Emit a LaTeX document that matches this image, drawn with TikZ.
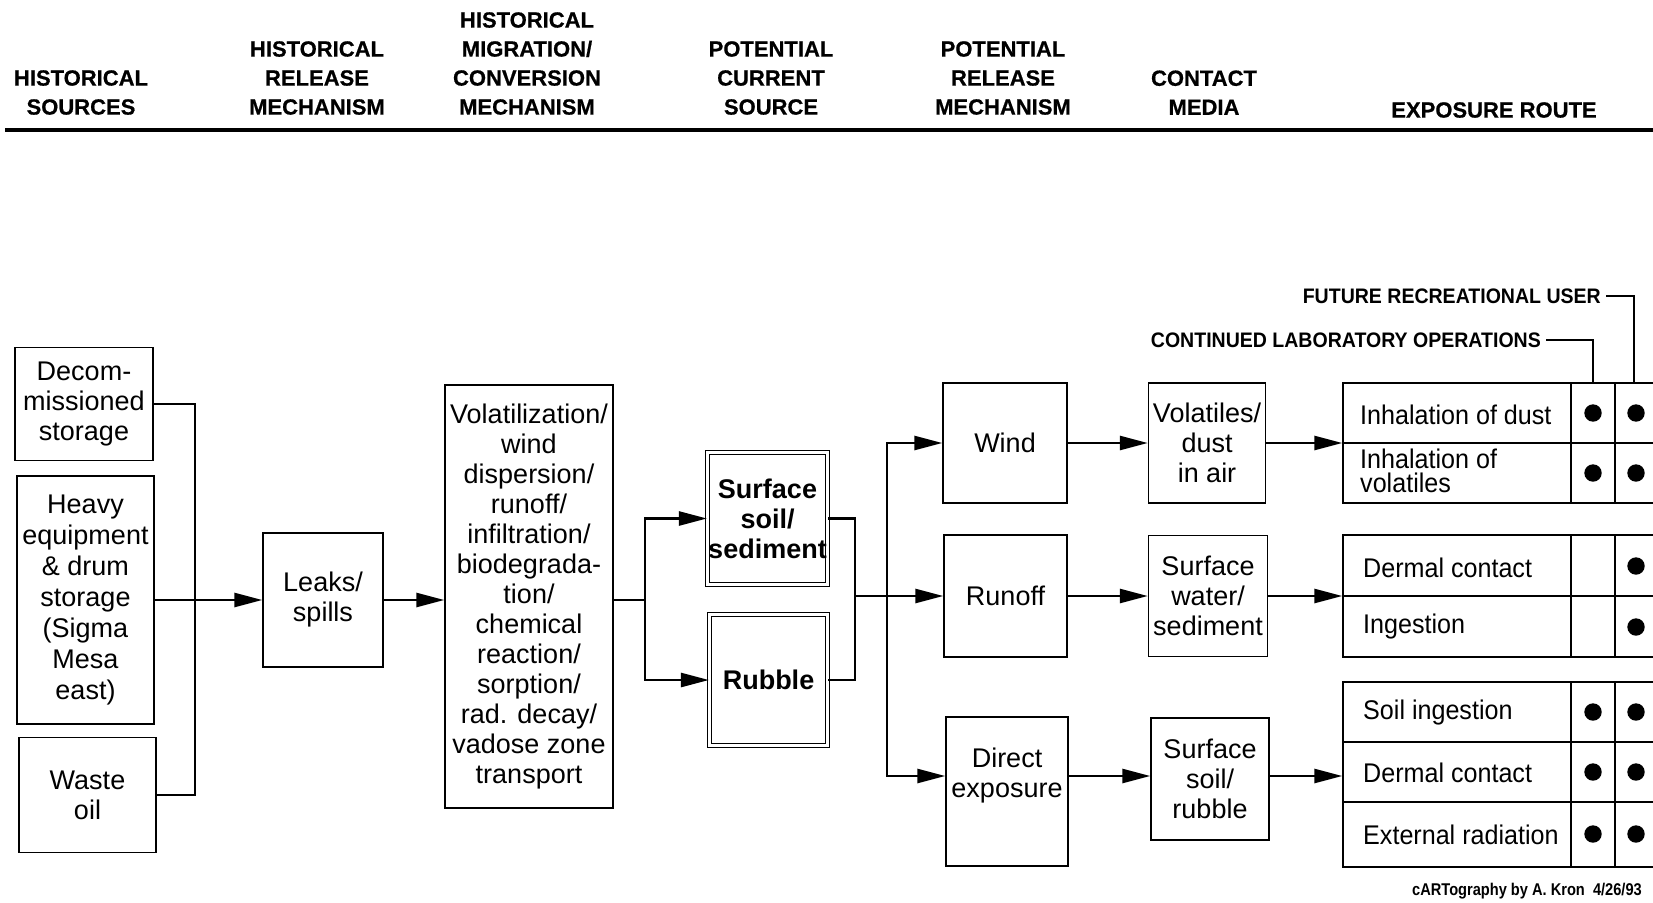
\documentclass[tikz,border=0pt]{standalone}
\usepackage{fontspec}
\setmainfont{Liberation Sans}
\newfontfamily\hdfont[FakeBold=0.6]{Liberation Sans Bold}
\newfontfamily\tabfont[FakeStretch=0.93]{Liberation Sans}
\newfontfamily\keyfont[FakeStretch=0.93]{Liberation Sans}
\newfontfamily\credfont[FakeStretch=0.86]{Liberation Sans}
\usetikzlibrary{arrows.meta}
\tikzset{
  box/.style={draw, line width=1.4pt, align=center, inner sep=0pt,
    font=\fontsize{27}{30}\selectfont},
  dbox/.style={draw, line width=1.2pt, double, double distance=2.5pt,
    align=center, inner sep=0pt, font=\bfseries\fontsize{27}{30}\selectfont},
  tbl/.style={draw, line width=1.4pt, inner sep=0pt},
  tline/.style={line width=1.4pt},
  conn/.style={line width=2.6pt},
  arr/.style={conn, -{Triangle[length=28pt,width=14pt]}},
  hd/.style={font=\hdfont\fontsize{22}{29}\selectfont, align=center,
    anchor=south, inner sep=0pt},
  cell/.style={font=\tabfont\fontsize{27}{24}\selectfont, anchor=west,
    align=left, inner sep=0pt},
  key/.style={font=\keyfont\bfseries\fontsize{21}{21}\selectfont, anchor=east,
    inner sep=0pt},
  keyline/.style={line width=1.2pt},
}
\begin{document}
\begin{tikzpicture}[x=1pt,y=-1pt]
\useasboundingbox (0,0) rectangle (1653,902);
\clip (0,0) rectangle (1653,902);

% column headings
\node[hd] (h1) at (81,115) {HISTORICAL\\SOURCES};
\node[hd] (h2) at (317,115) {HISTORICAL\\RELEASE\\MECHANISM};
\node[hd] (h3) at (527,115) {HISTORICAL\\MIGRATION/\\CONVERSION\\MECHANISM};
\node[hd] (h4) at (771,115) {POTENTIAL\\CURRENT\\SOURCE};
\node[hd] (h5) at (1003,115) {POTENTIAL\\RELEASE\\MECHANISM};
\node[hd] (h6) at (1204,115) {CONTACT\\MEDIA};
\node[hd] (h7) at (1494,118) {EXPOSURE ROUTE};
\draw[line width=3.5pt] (5,130) -- (1660,130);

% historical sources
\node[box, minimum width=138pt, minimum height=113pt] (dec) at (84,404)
  {Decom-\\missioned\\storage};
\node[box, minimum width=137pt, minimum height=248pt,
  font=\fontsize{27}{31}\selectfont] (heavy) at (85.5,600)
  {Heavy\\equipment\\\& drum\\storage\\(Sigma\\Mesa\\east)};
\node[box, minimum width=137pt, minimum height=115pt] (waste) at (87.5,795)
  {Waste\\oil};

% release and migration
\node[box, minimum width=120pt, minimum height=134pt] (leaks) at (323,600)
  {Leaks/\\spills};
\node[box, minimum width=168pt, minimum height=423pt] (vol) at (529,596.5)
  {Volatilization/\\wind\\dispersion/\\runoff/\\infiltration/\\biodegrada-\\tion/\\chemical\\reaction/\\sorption/\\rad. decay/\\vadose zone\\transport};

% current sources
\node[dbox, minimum width=120pt, minimum height=132pt] (ssed) at (767.5,518.5)
  {Surface\\soil/\\sediment};
\node[dbox, minimum width=118pt, minimum height=131pt] (rubble) at (768.5,680)
  {Rubble};

% release mechanisms
\node[box, minimum width=124pt, minimum height=120pt] (wind) at (1005,443) {Wind};
\node[box, minimum width=123pt, minimum height=122pt] (runoff) at (1005.5,596) {Runoff};
\node[box, minimum width=122pt, minimum height=149pt] (direct) at (1007,791.5) {};
\node[align=center, inner sep=0pt, font=\fontsize{27}{30}\selectfont] (dirtext)
  at (1007,776) {Direct\\exposure};

% contact media
\node[box, minimum width=117pt, minimum height=120pt] (air) at (1207,443)
  {Volatiles/\\dust\\in air};
\node[box, minimum width=119pt, minimum height=121pt] (water) at (1208,596)
  {Surface\\water/\\sediment};
\node[box, minimum width=118pt, minimum height=122pt] (soil) at (1210,779)
  {Surface\\soil/\\rubble};

% exposure route tables
\node[tbl, minimum width=357pt, minimum height=120pt] (t1) at (1521.5,443) {};
\node[tbl, minimum width=357pt, minimum height=122pt] (t2) at (1521.5,596) {};
\node[tbl, minimum width=357pt, minimum height=185pt] (t3) at (1521.5,774.5) {};
\draw[tline] (1343,443) -- (1700,443);
\draw[tline] (1343,596) -- (1700,596);
\draw[tline] (1343,742) -- (1700,742);
\draw[tline] (1343,802) -- (1700,802);
\foreach \cx in {1571,1615} {
  \draw[tline] (\cx,383) -- (\cx,503);
  \draw[tline] (\cx,535) -- (\cx,657);
  \draw[tline] (\cx,682) -- (\cx,867);
}
\node[cell] (r1) at (1360,415) {Inhalation of dust};
\node[cell] (r2) at (1360,471) {Inhalation of\\volatiles};
\node[cell] (r3) at (1363,568) {Dermal contact};
\node[cell] (r4) at (1363,627) {Ingestion};
\node[cell] (r5) at (1363,713) {Soil ingestion};
\node[cell] (r6) at (1363,773) {Dermal contact};
\node[cell] (r7) at (1363,835) {External radiation};
\foreach \cy in {413,473,712,772,834} {
  \fill (1593,\cy) circle (8.7);
  \fill (1636,\cy) circle (8.7);
}
\foreach \cy in {566,627} {
  \fill (1636,\cy) circle (8.7);
}

% receptor key
\node[key] (lab) at (1541,340) {CONTINUED LABORATORY OPERATIONS};
\node[key] (fut) at (1601,296) {FUTURE RECREATIONAL USER};
\coordinate (labend) at (1593,383);
\coordinate (futend) at (1634,383);
\draw[keyline] ([xshift=5pt]lab.east) -| (labend);
\draw[keyline] ([xshift=5pt]fut.east) -| (futend);

% connectors
\coordinate (j1) at (195,600);
\draw[conn] (dec.east) -| (j1) |- (waste.east);
\draw[arr] (heavy.east) -- (leaks.west);
\draw[arr] (leaks.east) -- (leaks.east -| vol.west);
\coordinate (j2) at (645,600);
\draw[conn] (vol.east |- j2) -- (j2);
\draw[arr] (j2) |- (ssed.west);
\draw[arr] (j2) |- (rubble.west);
\coordinate (j3) at (855,596);
\coordinate (j4) at (887,596);
\draw[conn] (ssed.east) -| (j3) |- (rubble.east);
\draw[conn] (j3) -- (j4);
\draw[arr] (j4) |- (wind.west);
\draw[arr] (j4) -- (runoff.west);
\draw[arr] (j4) |- (direct.west |- dirtext);
\draw[arr] (wind.east) -- (air.west);
\draw[arr] (runoff.east) -- (water.west);
\draw[arr] (direct.east |- dirtext) -- (soil.west |- dirtext);
\draw[arr] (air.east) -- (air.east -| t1.west);
\draw[arr] (water.east) -- (water.east -| t2.west);
\draw[arr] (soil.east |- dirtext) -- (t3.west |- dirtext);

% credit line
\node[font=\credfont\bfseries\fontsize{17}{17}\selectfont, anchor=east, inner sep=0pt]
  (credit) at (1642,891) {cARTography by A. Kron\ \ 4/26/93};
\end{tikzpicture}
\end{document}
